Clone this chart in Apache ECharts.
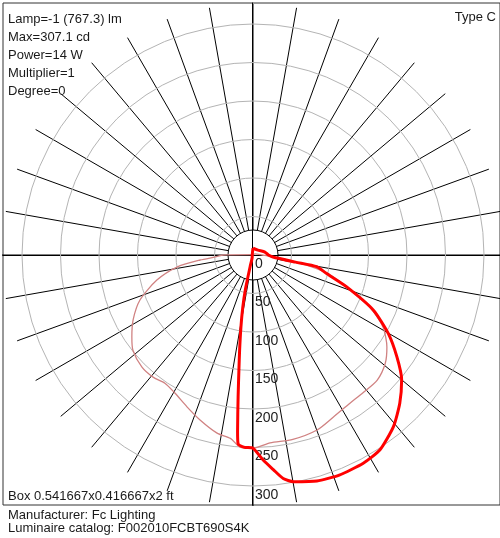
<!DOCTYPE html>
<html><head><meta charset="utf-8">
<script src="https://cdn.jsdelivr.net/npm/echarts@6/dist/echarts.min.js"></script>
<style>html,body{margin:0;padding:0;background:#fff}#c{width:500px;height:538px}</style>
</head><body><div id="c"></div>
<script>
const infoLines = ['Lamp=-1 (767.3) lm', 'Max=307.1 cd', 'Power=14 W', 'Multiplier=1', 'Degree=0'];
const typeLabel = 'Type C';
const boxLabel = 'Box 0.541667x0.416667x2 ft';
const footerLines = ['Manufacturer: Fc Lighting', 'Luminaire catalog: F002010FCBT690S4K'];
const radialTicks = [0, 50, 100, 150, 200, 250, 300];
const spokeStepDeg = 10;

// C0 / C180 plane (thick red): gamma from nadir in degrees (negative = C180 side), intensity in cd
const c0Gamma = [-180, -90, -20, -14, -12.5, -11, -9.5, -8, -7, -6, -5, -4.5, -2.5, 0, 2.9, 5.4, 7.7, 10.1, 15.8, 21.4, 27.9, 33.1, 39.3, 44.7, 50, 54.7, 59.9, 65.4, 71.3, 76, 79.6, 80.5, 84.3, 90, 104, 135, 180];
const c0Cd    = [9, 1, 3, 15, 45, 70, 95, 125, 150, 185, 230, 246, 250, 251, 267, 280, 293, 299, 305, 307, 306, 302, 288, 271, 252, 229, 203, 172, 128, 98, 84, 56, 26, 20, 16, 9, 9];

// C90 / C270 plane (thin pink)
const c90Gamma = [-180, -100, -90, -87, -84.6, -81, -75.4, -68.3, -61.6, -55.9, -51.6, -44.7, -39.3, -34.5, -29.5, -23.5, -17.8, -11.4, -7, -3.9, 0, 5.2, 12.2, 20.1, 26.3, 33.2, 38.6, 44.8, 50.7, 55.5, 61, 66, 70.2, 76.3, 80.3, 84, 90, 120, 180];
const c90Cd    = [0, 3, 38, 49, 69, 100, 129, 158, 177, 190, 199, 205, 205, 202, 206, 215, 225, 236, 240, 250, 251, 245, 245, 242, 235, 230, 229, 229, 222, 211, 193, 166, 134, 99, 62, 30, 12, 3, 0];

const toPolar = (g, v) => g.map((a, i) => [v[i], a < 0 ? a + 360 : a]);

const font = 'Liberation Sans, Arial, sans-serif';
const CX = 253, CY = 255;
const PX_PER_CD = 231 / 300;
const step = radialTicks[1] - radialTicks[0];
const lastTick = radialTicks[radialTicks.length - 1];
const axisMax = lastTick + step;            // one extra (hidden) ring so values > 300 are still drawn
const circleColors = radialTicks.map(() => '#b4b4b4').concat(['rgba(0,0,0,0)']);

const chart = echarts.init(document.getElementById('c'), null, {renderer: 'canvas'});
chart.setOption({
  animation: false,
  backgroundColor: '#fff',
  title: [
    {text: infoLines.join('\n'), left: 8, top: 10, padding: 0,
     textStyle: {fontSize: 13, lineHeight: 18, fontWeight: 'normal', color: '#1a1a1a', fontFamily: font}},
    {text: typeLabel, right: 4, top: 11, padding: 0,
     textStyle: {fontSize: 13, fontWeight: 'normal', color: '#1a1a1a', fontFamily: font}},
    {text: boxLabel, left: 8, top: 490, padding: 0,
     textStyle: {fontSize: 13, fontWeight: 'normal', color: '#1a1a1a', fontFamily: font}},
    {text: footerLines.join('\n'), left: 8, top: 509, padding: 0,
     textStyle: {fontSize: 13, lineHeight: 13, fontWeight: 'normal', color: '#1a1a1a', fontFamily: font}}
  ],
  grid: {left: 3, top: 3, width: 499, height: 502, show: true, borderColor: '#333', borderWidth: 1, backgroundColor: 'transparent'},
  xAxis: {type: 'value', min: -(CX - 3), max: 502 - CX, axisLine: {onZero: true, lineStyle: {color: '#000', width: 1}},
    splitLine: {show: false}, axisTick: {show: false}, axisLabel: {show: false}},
  yAxis: {type: 'value', min: -(505 - CY), max: CY - 3, axisLine: {onZero: true, lineStyle: {color: '#000', width: 1}},
    splitLine: {show: false}, axisTick: {show: false}, axisLabel: {show: false}},
  polar: [
    {center: [CX, CY], radius: axisMax * PX_PER_CD},
    {center: [CX, CY], radius: [25, 251]},
    {center: [CX, CY], radius: 25}
  ],
  angleAxis: [
    {polarIndex: 0, type: 'value', min: 0, max: 360, startAngle: 270, clockwise: false,
     axisLine: {show: false}, axisTick: {show: false}, axisLabel: {show: false}, splitLine: {show: false}},
    {polarIndex: 1, type: 'value', min: 0, max: 360, interval: spokeStepDeg, startAngle: 270, clockwise: false,
     axisLine: {show: false}, axisTick: {show: false}, axisLabel: {show: false},
     splitLine: {show: true, lineStyle: {color: '#000', width: 1}}},
    {polarIndex: 2, type: 'value', min: 0, max: 360, startAngle: 270,
     axisLine: {show: true, lineStyle: {color: '#000', width: 1}}, axisTick: {show: false}, axisLabel: {show: false}, splitLine: {show: false}}
  ],
  radiusAxis: [
    {polarIndex: 0, type: 'value', min: radialTicks[0], max: axisMax, interval: step, z: 3,
     axisLine: {show: false}, axisTick: {show: false},
     splitLine: {show: true, lineStyle: {color: circleColors, width: 1}},
     axisLabel: {show: true, showMaxLabel: false, margin: 2, fontSize: 14, color: '#222', fontFamily: font,
       align: 'left', verticalAlign: 'top', padding: [2, 0, 0, 0],
       formatter: v => (v <= lastTick ? String(v) : '')}},
    {polarIndex: 1, type: 'value', min: 0, max: 1, show: false},
    {polarIndex: 2, type: 'value', min: 0, max: 1, show: false}
  ],
  series: [
    {type: 'line', coordinateSystem: 'polar', polarIndex: 0, data: toPolar(c90Gamma, c90Cd), showSymbol: false, clip: false, z: 5,
     smooth: 0.25, lineStyle: {color: '#d08282', width: 1.3}},
    {type: 'line', coordinateSystem: 'polar', polarIndex: 0, data: toPolar(c0Gamma, c0Cd), showSymbol: false, clip: false, z: 6,
     smooth: 0.2, lineStyle: {color: '#ff0000', width: 3}}
  ]
});
</script></body></html>
